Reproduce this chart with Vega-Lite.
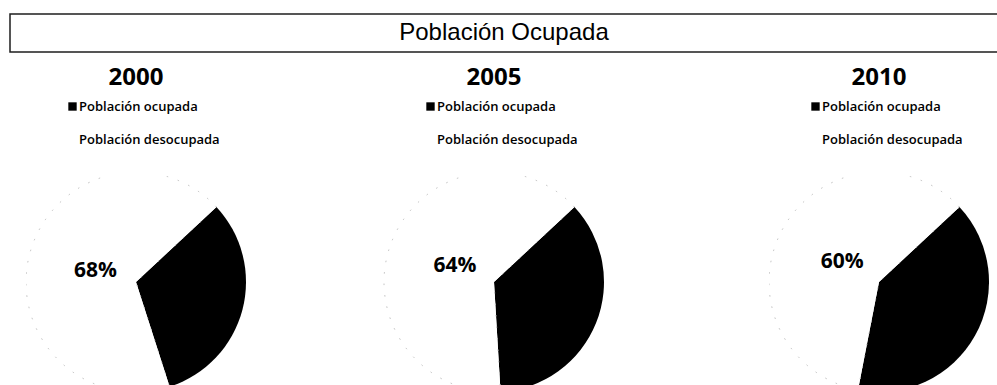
{
  "$schema": "https://vega.github.io/schema/vega-lite/v6.json",
  "background": "white",
  "padding": {"left": 9, "top": 13, "right": 0, "bottom": 0},
  "datasets": {
    "encabezado": [{"titulo": "Población Ocupada"}],
    "poblacion": [
      {"anio": 2000, "categoria": "Población ocupada", "valor": 0.32},
      {"anio": 2000, "categoria": "Población desocupada", "valor": 0.68},
      {"anio": 2005, "categoria": "Población ocupada", "valor": 0.36},
      {"anio": 2005, "categoria": "Población desocupada", "valor": 0.64},
      {"anio": 2010, "categoria": "Población ocupada", "valor": 0.40},
      {"anio": 2010, "categoria": "Población desocupada", "valor": 0.60}
    ]
  },
  "config": {
    "view": {"stroke": null},
    "title": {
      "font": "Open Sans", "fontSize": 24, "fontWeight": "bold", "color": "black",
      "anchor": "middle", "frame": "group", "baseline": "alphabetic", "offset": 10
    },
    "legend": {
      "orient": "none", "title": null, "direction": "vertical", "padding": 0,
      "symbolType": "square", "symbolSize": 70, "symbolStrokeWidth": 0,
      "labelFont": "Open Sans", "labelFontSize": 13, "labelFontWeight": 600,
      "labelColor": "black", "labelOffset": 0, "rowPadding": 19, "labelLimit": 300
    }
  },
  "spacing": 13,
  "vconcat": [
    {
      "width": 988,
      "height": 38,
      "view": {"stroke": "#1e1e1e", "strokeWidth": 1.5},
      "data": {"name": "encabezado"},
      "mark": {"type": "text", "font": "Liberation Sans", "fontSize": 24, "baseline": "middle", "color": "black"},
      "encoding": {"text": {"field": "titulo", "type": "nominal"}}
    },
    {
      "spacing": 10,
      "resolve": {
        "scale": {"fill": "independent", "theta": "independent"},
        "legend": {"fill": "independent"}
      },
      "hconcat": [
        {"width": 6, "height": 212, "data": {"values": []}, "mark": "point"},
        {
          "width": 220, "height": 212,
          "title": "2000",
          "data": {"name": "poblacion"},
          "transform": [{"filter": "datum.anio == 2000"}],
          "encoding": {
            "theta": {"field": "valor", "type": "quantitative", "stack": true, "scale": {"domain": [0, 1], "range": [0.8203, 7.1035]}},
            "order": {"field": "categoria", "sort": "descending"}
          },
          "layer": [
            {
              "mark": {"type": "arc", "outerRadius": 110, "clip": true, "strokeWidth": 1, "strokeDash": [1.5, 10]},
              "encoding": {
                "fill": {"field": "categoria", "type": "nominal",
                  "scale": {"domain": ["Población ocupada", "Población desocupada"], "range": ["black", "white"]},
                  "legend": {"legendX": 40, "legendY": -76}},
                "stroke": {"condition": {"test": "datum.categoria === 'Población desocupada'", "value": "#bdbdbd"}, "value": "transparent"}
              }
            },
            {
              "mark": {"type": "text", "radius": 42, "font": "Open Sans", "fontSize": 21, "fontWeight": "bold", "color": "black"},
              "encoding": {
                "detail": {"field": "categoria", "type": "nominal"},
                "text": {"condition": {"test": "datum.categoria === 'Población ocupada'", "value": ""}, "field": "valor", "type": "quantitative", "format": ".0%"}
              }
            }
          ]
        },
        {
          "width": 476, "height": 212,
          "title": "2005",
          "data": {"name": "poblacion"},
          "transform": [{"filter": "datum.anio == 2005"}],
          "encoding": {
            "theta": {"field": "valor", "type": "quantitative", "stack": true, "scale": {"domain": [0, 1], "range": [0.8203, 7.1035]}},
            "order": {"field": "categoria", "sort": "descending"}
          },
          "layer": [
            {
              "mark": {"type": "arc", "outerRadius": 110, "clip": true, "strokeWidth": 1, "strokeDash": [1.5, 10]},
              "encoding": {
                "fill": {"field": "categoria", "type": "nominal",
                  "scale": {"domain": ["Población ocupada", "Población desocupada"], "range": ["black", "white"]},
                  "legend": {"legendX": 168, "legendY": -76}},
                "stroke": {"condition": {"test": "datum.categoria === 'Población desocupada'", "value": "#bdbdbd"}, "value": "transparent"}
              }
            },
            {
              "mark": {"type": "text", "radius": 42, "font": "Open Sans", "fontSize": 21, "fontWeight": "bold", "color": "black"},
              "encoding": {
                "detail": {"field": "categoria", "type": "nominal"},
                "text": {"condition": {"test": "datum.categoria === 'Población ocupada'", "value": ""}, "field": "valor", "type": "quantitative", "format": ".0%"}
              }
            }
          ]
        },
        {"width": 17, "height": 212, "data": {"values": []}, "mark": "point"},
        {
          "width": 220, "height": 212,
          "title": "2010",
          "data": {"name": "poblacion"},
          "transform": [{"filter": "datum.anio == 2010"}],
          "encoding": {
            "theta": {"field": "valor", "type": "quantitative", "stack": true, "scale": {"domain": [0, 1], "range": [0.8203, 7.1035]}},
            "order": {"field": "categoria", "sort": "descending"}
          },
          "layer": [
            {
              "mark": {"type": "arc", "outerRadius": 110, "clip": true, "strokeWidth": 1, "strokeDash": [1.5, 10]},
              "encoding": {
                "fill": {"field": "categoria", "type": "nominal",
                  "scale": {"domain": ["Población ocupada", "Población desocupada"], "range": ["black", "white"]},
                  "legend": {"legendX": 40, "legendY": -76}},
                "stroke": {"condition": {"test": "datum.categoria === 'Población desocupada'", "value": "#bdbdbd"}, "value": "transparent"}
              }
            },
            {
              "mark": {"type": "text", "radius": 42, "font": "Open Sans", "fontSize": 21, "fontWeight": "bold", "color": "black"},
              "encoding": {
                "detail": {"field": "categoria", "type": "nominal"},
                "text": {"condition": {"test": "datum.categoria === 'Población ocupada'", "value": ""}, "field": "valor", "type": "quantitative", "format": ".0%"}
              }
            }
          ]
        }
      ]
    }
  ]
}
